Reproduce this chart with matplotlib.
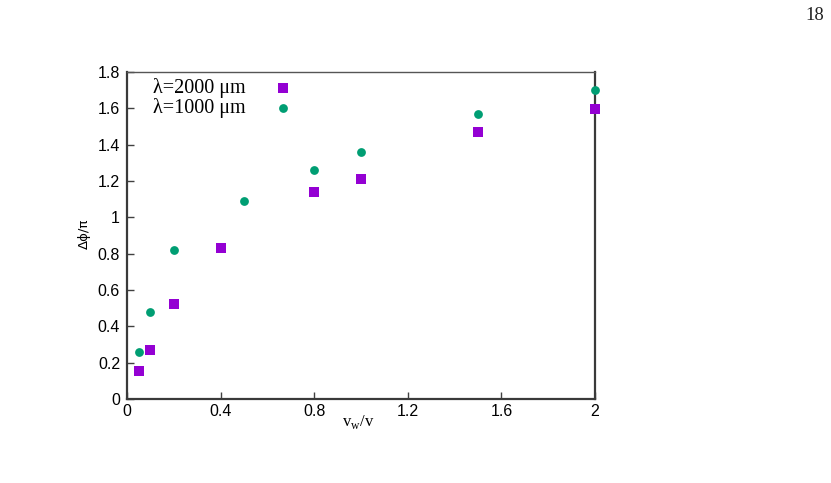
import matplotlib
matplotlib.use("Agg")
import matplotlib.pyplot as plt

x_2000 = [0.05, 0.1, 0.2, 0.4, 0.8, 1.0, 1.5, 2.0]
y_2000 = [0.155, 0.27, 0.52, 0.83, 1.14, 1.21, 1.47, 1.595]
x_1000 = [0.05, 0.1, 0.2, 0.5, 0.8, 1.0, 1.5, 2.0]
y_1000 = [0.26, 0.48, 0.82, 1.09, 1.26, 1.36, 1.57, 1.70]
xticks = [0, 0.4, 0.8, 1.2, 1.6, 2]
xticklabels = ["0", "0.4", "0.8", "1.2", "1.6", "2"]
yticks = [0, 0.2, 0.4, 0.6, 0.8, 1, 1.2, 1.4, 1.6, 1.8]
yticklabels = ["0", "0.2", "0.4", "0.6", "0.8", "1", "1.2", "1.4", "1.6", "1.8"]

fig = plt.figure(figsize=(8.31, 4.83), dpi=100)
ax = fig.add_axes([0.1528, 0.174, 0.5632, 0.677])
ax.set_xlim(0, 2)
ax.set_ylim(0, 1.8)

sq = ax.scatter(x_2000, y_2000, marker="s", s=52, color="#9400D3", linewidths=0,
                zorder=5, clip_on=False)
ci = ax.scatter(x_1000, y_1000, marker="o", s=40, color="#009E73", linewidths=0,
                zorder=5, clip_on=False)

ax.set_xticks(xticks)
ax.set_xticklabels(xticklabels)
ax.set_yticks(yticks)
ax.set_yticklabels(yticklabels)
ax.tick_params(direction="in", length=5, width=1, color="#404040",
               labelsize=11.5, top=False, right=False)
ax.tick_params(axis="y", pad=5)
ax.tick_params(axis="x", pad=3.5)
for lab in ax.get_xticklabels() + ax.get_yticklabels():
    lab.set_fontfamily("Liberation Sans")

for side in ["left", "bottom", "right"]:
    ax.spines[side].set_linewidth(1.6)
    ax.spines[side].set_color("#3a3a3a")
ax.spines["top"].set_linewidth(1.0)
ax.spines["top"].set_color("#555555")

ax.set_xlabel(r"v$_\mathregular{w}$/v", fontfamily="Liberation Serif", fontsize=12)
ax.xaxis.set_label_coords(0.494, -0.042, transform=ax.transAxes)
ax.xaxis.label.set_verticalalignment("top")
ax.set_ylabel("Δϕ/π", fontfamily="DejaVu Sans", fontsize=9.5)
ax.yaxis.set_label_coords(-0.078, 0.505)

leg = ax.legend([sq, ci], ["λ=2000 μm", "λ=1000 μm"], loc="upper left",
                bbox_to_anchor=(0.03, 1.018), frameon=False, markerfirst=False,
                prop={"family": "Liberation Serif", "size": 14.5},
                handletextpad=0.85, labelspacing=0.0, borderaxespad=0.2)

fig.text(0.9916, 1 - 20 / 483, "18", fontfamily="Liberation Serif", fontsize=13.5,
         ha="right", va="baseline", color="#222222")

fig.savefig("out.png", dpi=100)
